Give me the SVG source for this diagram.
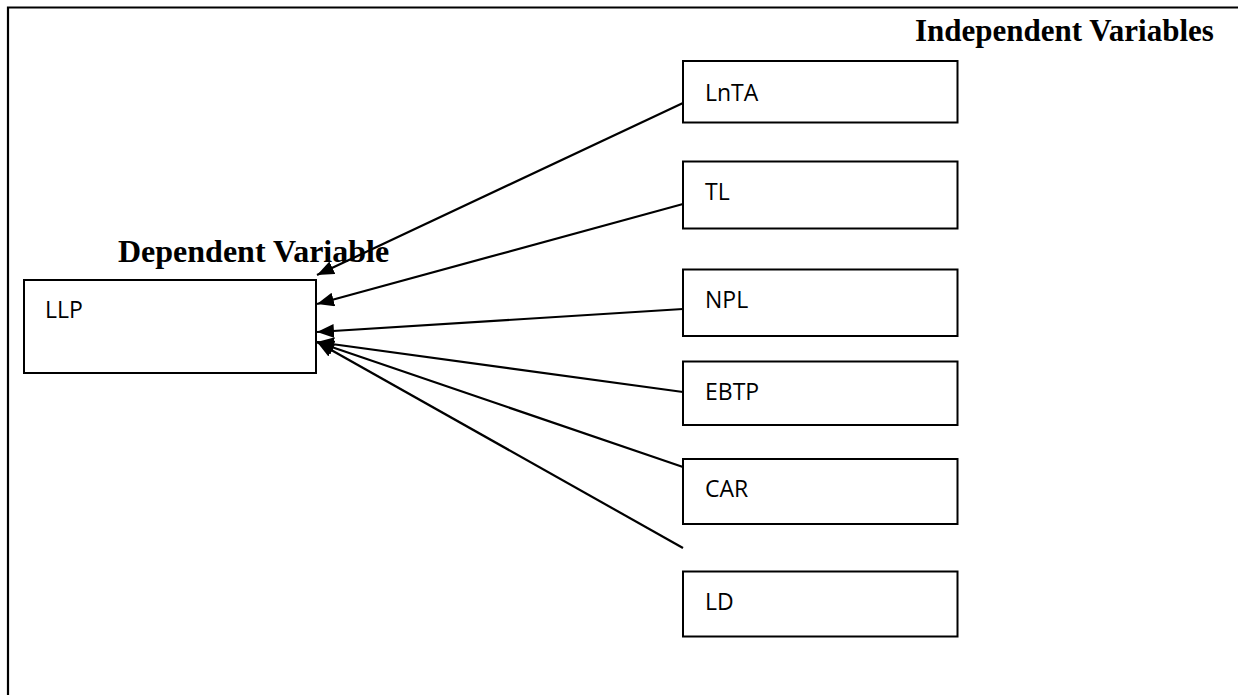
<svg xmlns="http://www.w3.org/2000/svg" width="1238" height="695" viewBox="0 0 1238 695">
<style>
.box{fill:#fff;stroke:#000;stroke-width:2}
.lbl{font-family:"Open Sans","Liberation Sans",sans-serif;font-size:23px;fill:#000}
.hdr{font-family:"Liberation Serif","Times New Roman",serif;font-weight:bold;font-size:31px;fill:#000}
.con{stroke:#000;stroke-width:2.2;fill:none}
</style>
<defs>
<marker id="ah" markerUnits="userSpaceOnUse" markerWidth="20" markerHeight="16" refX="17" refY="7" orient="auto">
<path d="M0,0 L17,7 L0,14 Z" fill="#000"/>
</marker>
</defs>
<rect width="1238" height="695" fill="#fff"/>
<g id="frame">
<path d="M8,695 L8,7.5 L1238,7.5" fill="none" stroke="#000" stroke-width="2.2"/>
</g>
<text class="hdr" x="915" y="41">Independent Variables</text>
<g id="llp">
<rect class="box" x="24" y="280" width="292" height="93"/>
<text class="lbl" x="45" y="318">LLP</text>
</g>
<g id="lnta">
<rect class="box" x="683" y="61" width="274.5" height="61.5"/>
<text class="lbl" x="705" y="101">LnTA</text>
</g>
<g id="tl">
<rect class="box" x="683" y="161.5" width="274.5" height="67"/>
<text class="lbl" x="705" y="200">TL</text>
</g>
<g id="npl">
<rect class="box" x="683" y="269.5" width="274.5" height="66.5"/>
<text class="lbl" x="705" y="308">NPL</text>
</g>
<g id="ebtp">
<rect class="box" x="683" y="361.5" width="274.5" height="63.5"/>
<text class="lbl" x="705" y="400">EBTP</text>
</g>
<g id="car">
<rect class="box" x="683" y="459" width="274.5" height="65"/>
<text class="lbl" x="705" y="497">CAR</text>
</g>
<g id="ld">
<rect class="box" x="683" y="571.5" width="274.5" height="65"/>
<text class="lbl" x="705" y="610">LD</text>
</g>
<g id="connectors">
<line class="con" x1="683" y1="103" x2="317" y2="275" marker-end="url(#ah)"/>
<line class="con" x1="683" y1="204" x2="317" y2="304" marker-end="url(#ah)"/>
<line class="con" x1="683" y1="309" x2="317" y2="332" marker-end="url(#ah)"/>
<line class="con" x1="683" y1="392" x2="317" y2="342" marker-end="url(#ah)"/>
<line class="con" x1="683" y1="467" x2="317" y2="342" marker-end="url(#ah)"/>
<line class="con" x1="683" y1="548" x2="317" y2="342" marker-end="url(#ah)"/>
</g>
<text class="hdr" x="118" y="262" style="font-size:32px">Dependent Variable</text>
</svg>
